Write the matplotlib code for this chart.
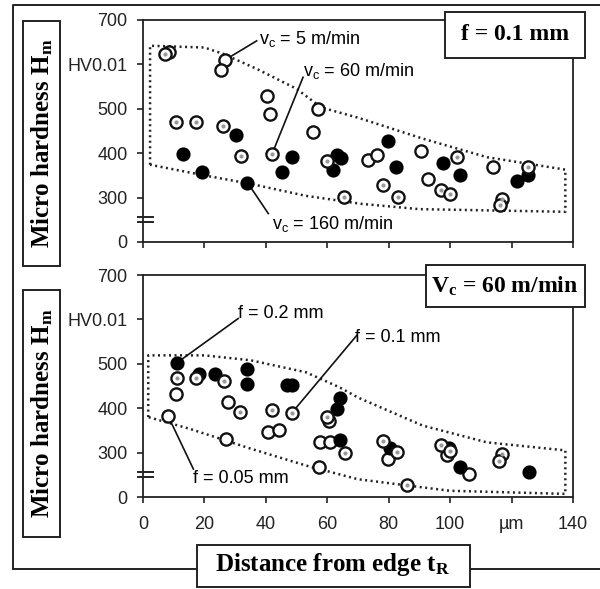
import matplotlib
matplotlib.use("Agg")
import matplotlib.pyplot as plt
from matplotlib.patches import Rectangle
from matplotlib.lines import Line2D
import matplotlib.transforms as mtransforms

plt.rcParams['font.family'] = ['Liberation Sans', 'DejaVu Sans']
plt.rcParams['mathtext.fontset'] = 'custom'
plt.rcParams['mathtext.rm'] = 'Liberation Sans'
plt.rcParams['mathtext.sf'] = 'Liberation Sans'
plt.rcParams['mathtext.it'] = 'Liberation Sans:italic'
plt.rcParams['mathtext.bf'] = 'Liberation Serif:bold'

# y positions: the "0" tick sits at 200 (axis is broken below 300)
y_ticks = [200, 300, 400, 500, 600, 700]
y_labels = ['0', '300', '400', '500', 'HV0.01', '700']
x_ticks = [0, 20, 40, 60, 80, 100, 120, 140]
x_labels = ['0', '20', '40', '60', '80', '100', 'µm', '140']

# top panel, f = 0.1 mm
vc5_x = [8.5, 26.7, 25.3, 40.3, 41.4, 57.1, 55.5, 73.4, 76.1, 90.4, 92.9, 113.9]
vc5_y = [627, 610, 587, 528, 488, 500, 447, 385, 395, 406, 342, 370]
vc60_x = [7.0, 10.7, 17.3, 26.2, 31.8, 42.0, 60.0, 65.5, 78.3, 82.9, 97.1, 100.0, 102.2, 116.8, 116.3, 125.3]
vc60_y = [624, 470, 470, 462, 394, 398, 383, 301, 329, 301, 316, 308, 392, 297, 284, 370]
vc160_x = [30.3, 13.1, 19.2, 34.0, 48.4, 45.2, 63.0, 64.4, 61.8, 79.9, 82.3, 97.8, 103.3, 121.7, 125.3]
vc160_y = [442, 398, 358, 334, 391, 357, 395, 389, 362, 427, 370, 377, 351, 337, 351]

# bottom panel, vc = 60 m/min
f005_x = [10.7, 8.2, 27.8, 27.0, 40.8, 44.4, 57.4, 57.7, 60.9, 60.4, 79.9, 98.9, 106.0]
f005_y = [432, 382, 415, 331, 347, 351, 267, 323, 323, 372, 286, 295, 252]
f01_x = [11.0, 17.3, 26.4, 31.6, 41.9, 48.4, 59.8, 65.8, 78.3, 82.6, 86.1, 97.1, 100.0, 116.8, 116.0]
f01_y = [468, 469, 461, 391, 397, 389, 380, 299, 327, 301, 226, 316, 304, 297, 282]
f02_x = [11.0, 18.3, 23.5, 33.8, 33.8, 46.8, 48.4, 63.1, 64.2, 64.2, 80.5, 99.5, 103.3, 125.7]
f02_y = [502, 478, 478, 489, 455, 453, 453, 399, 423, 329, 310, 310, 267, 257]

# scatter bands (dotted envelopes)
top_up_x = [2.3, 20, 26, 37, 50, 58, 70, 91, 112, 137.5]
top_up_y = [642, 638, 624, 590, 545, 503, 480, 433, 391, 363]
top_lo_x = [2.3, 20, 35, 53, 71, 90, 137.5]
top_lo_y = [374, 350, 331, 304, 286, 274, 268]
bot_up_x = [1.7, 20, 35, 53, 64, 70, 91, 112, 137.5]
bot_up_y = [519, 519, 508, 481, 447, 424, 361, 323, 305]
bot_lo_x = [1.7, 15, 35, 53, 70, 86, 100, 137.5]
bot_lo_y = [380, 354, 309, 271, 240, 226, 214, 207]

W, H = 600, 589


def fx(x):
    return x / W


def fy(y):
    return 1 - y / H


def band(ax, ux, uy, lx, ly):
    xs = [lx[0]] + ux + [ux[-1]] + lx[::-1]
    ys = [ly[0]] + uy + [ly[-1]] + ly[::-1]
    ax.plot(xs, ys, color='#222', lw=1.8, ls=(0, (0.8, 1.4)), zorder=1)


def markers(ax, x, y, kind):
    if kind == 'filled':
        ax.plot(x, y, 'o', ms=8.8, mfc='black', mec='black', mew=1.4, ls='none', zorder=3)
    else:
        ax.plot(x, y, 'o', ms=8.8, mfc='white', mec='#111', mew=1.7, ls='none', zorder=3)
        if kind == 'dotted':
            ax.plot(x, y, 'o', ms=3.0, mfc='#9a9a9a', mec='none', ls='none', zorder=4)


def leader(ax, p0, p1):
    ax.plot([p0[0], p1[0]], [p0[1], p1[1]], color='#111', lw=1.2, zorder=2)


def setup(ax, show_xlabels):
    ax.set_xlim(0, 140)
    ax.set_ylim(200, 700)
    ax.set_yticks(y_ticks)
    ax.set_yticklabels(y_labels)
    ax.set_xticks(x_ticks)
    if show_xlabels:
        ax.set_xticklabels(x_labels)
    else:
        ax.set_xticklabels([])
    ax.tick_params(axis='y', direction='out', length=4, width=1.2, pad=7,
                   labelsize=13, colors='#222')
    ax.tick_params(axis='x', direction='out', length=4, width=1.2, pad=10,
                   labelsize=13, colors='#222')
    for s in ax.spines.values():
        s.set_linewidth(1.3)
        s.set_color('#222')
    # axis break marks
    tr = mtransforms.blended_transform_factory(ax.transAxes, ax.transData)
    for yb in (244.5, 255.5):
        ax.add_line(Line2D([-0.012, 0.023], [yb, yb], transform=tr, color='#222',
                           lw=1.4, clip_on=False))


fig = plt.figure(figsize=(6.0, 5.89), dpi=100)

ax1 = fig.add_axes([fx(143), fy(242), 430 / W, 222 / H])
setup(ax1, False)
band(ax1, top_up_x, top_up_y, top_lo_x, top_lo_y)
markers(ax1, vc5_x, vc5_y, 'open')
markers(ax1, vc160_x, vc160_y, 'filled')
markers(ax1, vc60_x, vc60_y, 'dotted')
leader(ax1, (vc5_x[1], vc5_y[1]), (37, 653))
leader(ax1, (vc60_x[5], vc60_y[5]), (52.1, 571))
leader(ax1, (vc160_x[3], vc160_y[3]), (40.8, 264))
ax1.text(37.8, 658, r'$\mathsf{v_c}$ = 5 m/min', fontsize=13, va='center', ha='left', zorder=5)
ax1.text(52.1, 586, r'$\mathsf{v_c}$ = 60 m/min', fontsize=13, va='center', ha='left', zorder=5)
ax1.text(41.9, 241, r'$\mathsf{v_c}$ = 160 m/min', fontsize=13, va='center', ha='left', zorder=5)

ax2 = fig.add_axes([fx(143), fy(497), 430 / W, 222 / H])
setup(ax2, True)
band(ax2, bot_up_x, bot_up_y, bot_lo_x, bot_lo_y)
markers(ax2, f005_x, f005_y, 'open')
markers(ax2, f02_x, f02_y, 'filled')
markers(ax2, f01_x, f01_y, 'dotted')
leader(ax2, (f02_x[0], f02_y[0]), (31, 602))
leader(ax2, (f01_x[5], f01_y[5]), (69.6, 564))
leader(ax2, (f005_x[1], f005_y[1]), (16.4, 263))
ax2.text(31, 614, 'f = 0.2 mm', fontsize=13, va='center', ha='left', zorder=5)
ax2.text(69, 560, 'f = 0.1 mm', fontsize=13, va='center', ha='left', zorder=5)
ax2.text(16.3, 241, 'f = 0.05 mm', fontsize=13, va='center', ha='left', zorder=5)


def fig_box(x0, y0, x1, y1, z=5):
    r = Rectangle((fx(x0), fy(y1)), (x1 - x0) / W, (y1 - y0) / H, transform=fig.transFigure,
                  facecolor='white', edgecolor='#222', lw=1.4, zorder=z)
    fig.patches.append(r)


def fig_text(x, y, s, size, rot=0):
    fig.text(fx(x), fy(y), s, fontsize=size, family='Liberation Serif', weight='bold',
             ha='center', va='center', rotation=rot, zorder=10)


# outer frame (right edge runs off the picture)
fig.add_artist(Line2D([fx(13), fx(13), 1.0], [fy(569), fy(5), fy(5)],
                      transform=fig.transFigure, color='#222', lw=1.4))
fig.add_artist(Line2D([fx(13), 1.0], [fy(569), fy(569)],
                      transform=fig.transFigure, color='#222', lw=1.4))

fig_box(445, 12, 585, 58)
fig_text(515, 35, 'f = 0.1 mm', 17)
fig_box(426, 265, 585, 307)
fig_text(505, 286, r'$\mathbf{V_c}$ = 60 m/min', 17)
fig_box(23, 21, 60, 266)
fig_text(42, 143, r'Micro hardness $\mathbf{H_m}$', 18, rot=90)
fig_box(23, 290, 60, 537)
fig_text(42, 413, r'Micro hardness $\mathbf{H_m}$', 18, rot=90)
fig_box(197, 545, 470, 587)
fig_text(333, 565, r'Distance from edge $\mathbf{t_R}$', 18)

fig.savefig('out.png', dpi=100)
